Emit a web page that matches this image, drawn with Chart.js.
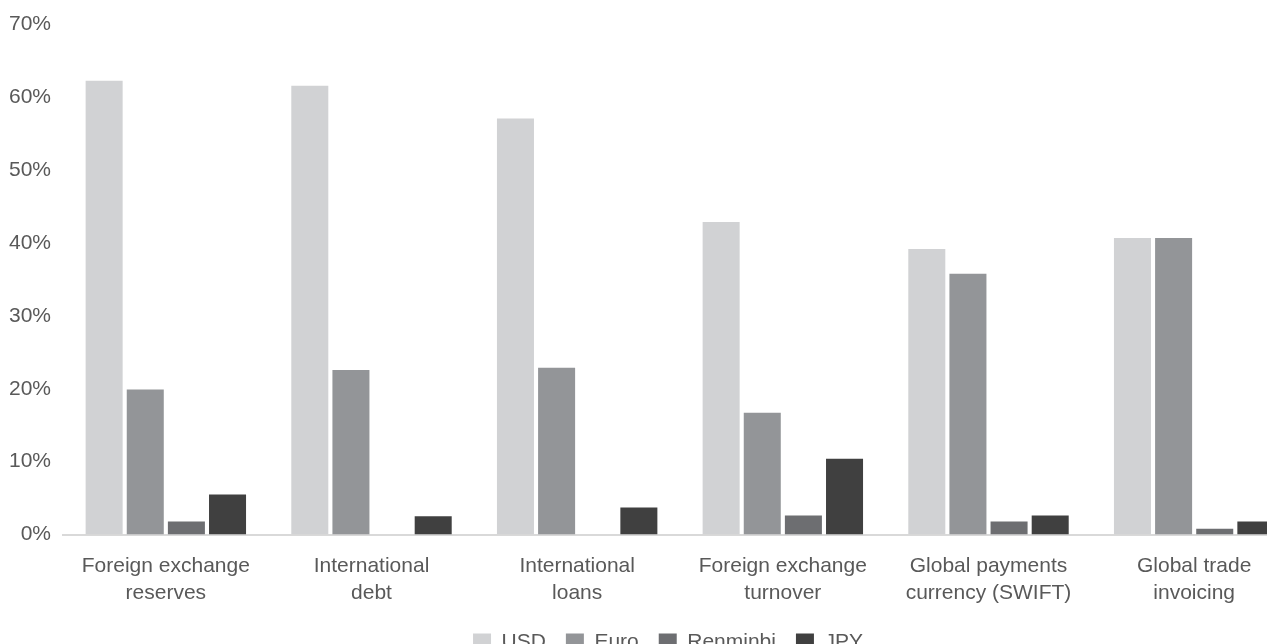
<!DOCTYPE html>
<html>
<head>
<meta charset="utf-8">
<script src="https://cdn.jsdelivr.net/npm/chart.js@4.4.1/dist/chart.umd.min.js"></script>
<style>
  html, body { margin: 0; padding: 0; background: #fff; overflow: hidden; }
  #wrap { position: relative; width: 1336px; height: 663px; }
</style>
</head>
<body>
<div id="wrap"><canvas id="chart"></canvas></div>
<script>
var categories = [
  ['Foreign exchange', 'reserves'],
  ['International', 'debt'],
  ['International', 'loans'],
  ['Foreign exchange', 'turnover'],
  ['Global payments', 'currency (SWIFT)'],
  ['Global trade', 'invoicing']
];
var usd      = [62.3, 61.6, 57.1, 42.9, 39.2, 40.7];
var euro     = [19.9, 22.6, 22.9, 16.7, 35.8, 40.7];
var renminbi = [1.8, 0, 0, 2.6, 1.8, 0.8];
var jpy      = [5.5, 2.5, 3.7, 10.4, 2.6, 1.8];

var textColor = '#595959';
var font = { family: 'Liberation Sans', size: 21 };

function bar(label, data, color) {
  return { label: label, data: data, backgroundColor: color, borderWidth: 0,
           categoryPercentage: 0.8, barPercentage: 0.9 };
}

new Chart(document.getElementById('chart'), {
  type: 'bar',
  data: {
    labels: categories,
    datasets: [
      bar('USD', usd, '#d1d2d4'),
      bar('Euro', euro, '#939598'),
      bar('Renminbi', renminbi, '#6d6e71'),
      bar('JPY', jpy, '#404040')
    ]
  },
  options: {
    responsive: true, maintainAspectRatio: false, animation: false,
    layout: { padding: { left: 8, right: 8, top: 18, bottom: 0 } },
    plugins: {
      legend: {
        position: 'bottom',
        labels: { color: textColor, font: font, boxWidth: 18, boxHeight: 18, padding: 20 }
      },
      tooltip: { enabled: false }
    },
    scales: {
      x: {
        grid: { display: false, drawTicks: false },
        border: { display: true, color: '#d9d9d9', width: 2 },
        ticks: { color: textColor, font: { family: 'Liberation Sans', size: 21, lineHeight: 1.25 }, padding: 19, maxRotation: 0, autoSkip: false },
        afterFit: function(scale) { scale.height -= 13; }
      },
      y: {
        min: 0, max: 70,
        grid: { display: false, drawTicks: false },
        border: { display: false },
        ticks: { stepSize: 10, color: textColor, font: font, padding: 12,
                 callback: function(v) { return v + '%'; } },
        afterFit: function(scale) { scale.width = 55; }
      },
      // spacer so the legend sits where the clipped original put it
      yRight: {
        position: 'right', display: true,
        grid: { display: false }, border: { display: false },
        ticks: { display: false },
        afterFit: function(scale) { scale.width = 31; }
      }
    }
  }
});
</script>
</body>
</html>
